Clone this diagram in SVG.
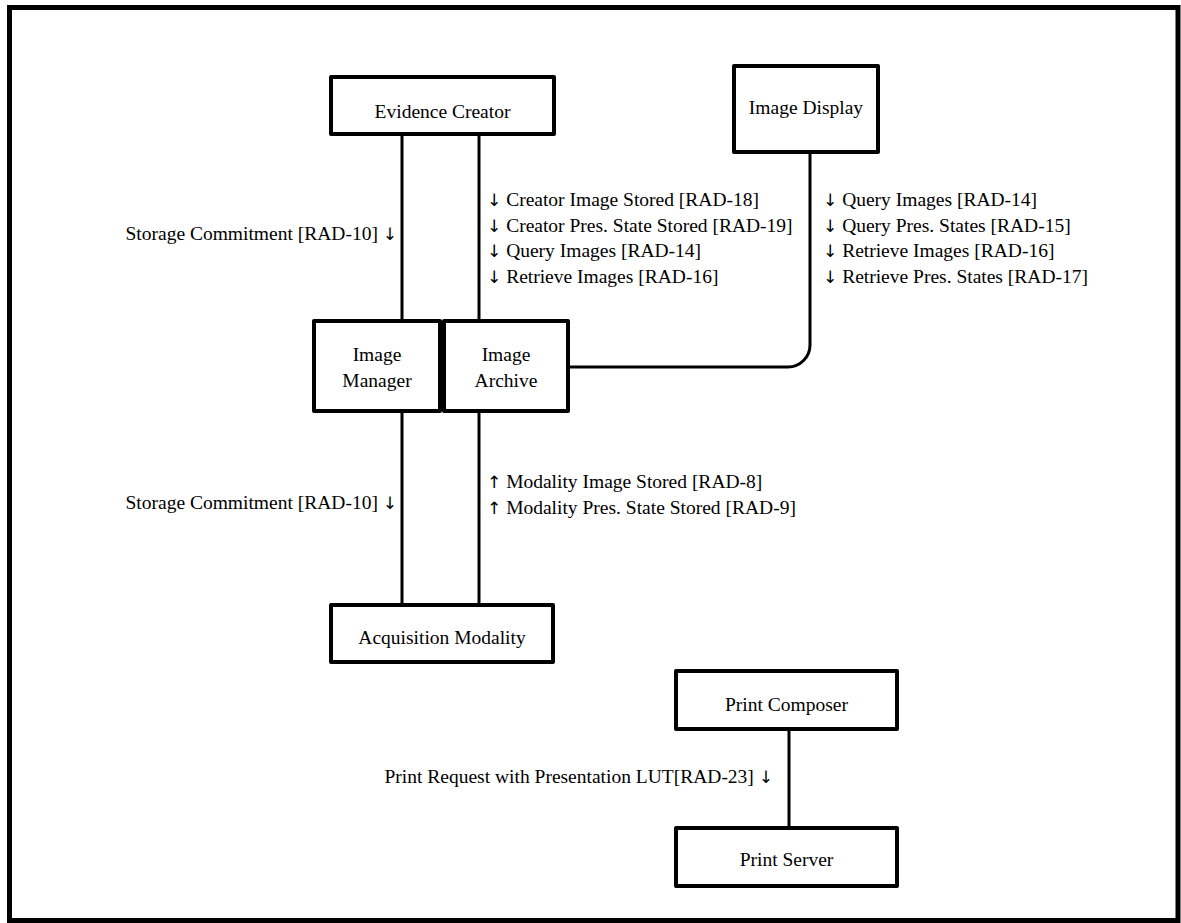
<svg xmlns="http://www.w3.org/2000/svg" width="1181" height="923" viewBox="0 0 1181 923">
<style>
.box{fill:#fff;stroke:#000;stroke-width:4;stroke-linejoin:round}
.frame{fill:#fff;stroke:#000;stroke-width:5}
.conn{fill:none;stroke:#000;stroke-width:3}
text{font-family:"Liberation Serif","Times New Roman","DejaVu Serif",serif;font-size:19.5px;fill:#000}
.a{font-family:"DejaVu Sans","DejaVu Serif",sans-serif;font-size:17px;fill:#000}
.c{text-anchor:middle}
.e{text-anchor:end}
</style>
<rect class="frame" x="9.5" y="7.5" width="1168.5" height="913"/>
<g id="connectors">
<line class="conn" x1="402" y1="136" x2="402" y2="320"/>
<line class="conn" x1="479" y1="136" x2="479" y2="320"/>
<line class="conn" x1="402" y1="412" x2="402" y2="604"/>
<line class="conn" x1="479" y1="412" x2="479" y2="604"/>
<path class="conn" d="M569,367 H788 A22,22 0 0 0 810,345 V153"/>
<line class="conn" x1="789" y1="730" x2="789" y2="827"/>
<text class="e" x="397" y="240">Storage Commitment [RAD-10] <tspan class="a">↓</tspan></text>
<text x="487" y="206"><tspan class="a">↓</tspan> Creator Image Stored [RAD-18]</text>
<text x="487" y="232"><tspan class="a">↓</tspan> Creator Pres. State Stored [RAD-19]</text>
<text x="487" y="257"><tspan class="a">↓</tspan> Query Images [RAD-14]</text>
<text x="487" y="283"><tspan class="a">↓</tspan> Retrieve Images [RAD-16]</text>
<text x="823" y="206"><tspan class="a">↓</tspan> Query Images [RAD-14]</text>
<text x="823" y="232"><tspan class="a">↓</tspan> Query Pres. States [RAD-15]</text>
<text x="823" y="257"><tspan class="a">↓</tspan> Retrieve Images [RAD-16]</text>
<text x="823" y="283"><tspan class="a">↓</tspan> Retrieve Pres. States [RAD-17]</text>
<text class="e" x="397" y="509">Storage Commitment [RAD-10] <tspan class="a">↓</tspan></text>
<text x="487" y="488"><tspan class="a">↑</tspan> Modality Image Stored [RAD-8]</text>
<text x="487" y="514"><tspan class="a">↑</tspan> Modality Pres. State Stored [RAD-9]</text>
<text class="e" x="773" y="783">Print Request with Presentation LUT[RAD-23] <tspan class="a">↓</tspan></text>
</g>
<g id="evidence-creator">
<rect class="box" x="331" y="77" width="223" height="57"/>
<text class="c" x="442.5" y="118">Evidence Creator</text>
</g>
<g id="image-display">
<rect class="box" x="734" y="66" width="144" height="86"/>
<text class="c" x="806" y="113.5">Image Display</text>
</g>
<g id="image-manager">
<rect class="box" x="314" y="321" width="126" height="90"/>
<text class="c" x="377" y="361">Image</text>
<text class="c" x="377" y="387">Manager</text>
</g>
<g id="image-archive">
<rect class="box" x="444" y="321" width="124" height="90"/>
<text class="c" x="506" y="361">Image</text>
<text class="c" x="506" y="387">Archive</text>
</g>
<g id="acquisition-modality">
<rect class="box" x="331" y="605" width="222" height="57"/>
<text class="c" x="442" y="644">Acquisition Modality</text>
</g>
<g id="print-composer">
<rect class="box" x="676" y="671" width="221" height="58"/>
<text class="c" x="786.5" y="711">Print Composer</text>
</g>
<g id="print-server">
<rect class="box" x="676" y="828" width="221" height="58"/>
<text class="c" x="786.5" y="866">Print Server</text>
</g>
</svg>
